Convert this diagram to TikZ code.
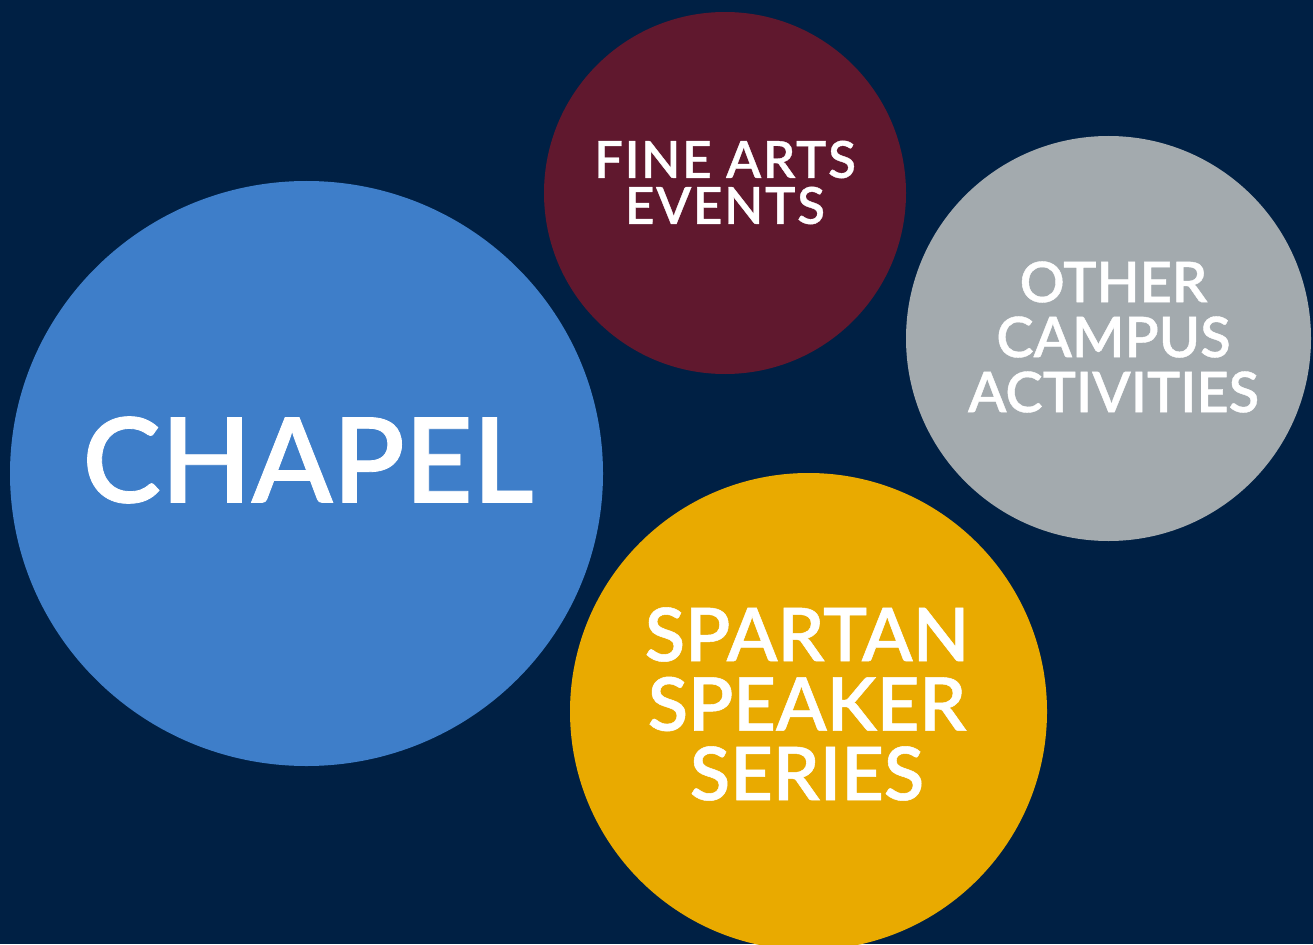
\documentclass[tikz,border=0pt]{standalone}
\usepackage{fontspec}
\setmainfont{Lato}
\newfontfamily\lblfont{Lato Semibold}[FakeBold=0.7]
\usetikzlibrary{shapes.geometric}
\definecolor{bgnavy}{HTML}{002044}
\definecolor{chapelblue}{HTML}{3E7EC9}
\definecolor{artsmaroon}{HTML}{60182E}
\definecolor{campusgray}{HTML}{A3AAAE}
\definecolor{spartangold}{HTML}{E9AA00}
\begin{document}
\begin{tikzpicture}[x=1pt,y=-1pt,
  bubble/.style={circle,inner sep=0pt,outer sep=0pt,draw=none},
  label/.style={text=white,align=center,inner sep=0pt,outer sep=0pt}]
\useasboundingbox (0,0) rectangle (1313,944);
\clip (0,0) rectangle (1313,944);
\fill[bgnavy] (0,0) rectangle (1313,944);
\node[ellipse,inner sep=0pt,outer sep=0pt,fill=chapelblue,minimum width=593pt,minimum height=585pt] (chapel) at (306.5,473.5) {};
\node[bubble,fill=artsmaroon,minimum size=362pt] (arts) at (725,193) {};
\node[bubble,fill=campusgray,minimum size=405pt] (campus) at (1108.5,338.5) {};
\node[bubble,fill=spartangold,minimum size=477pt] (spartan) at (808.5,711.5) {};
\node[label,font=\lblfont\fontsize{118}{118}\selectfont] (tchapel) at (308,460) {CHAPEL};
\node[label,font=\lblfont\addfontfeatures{LetterSpace=3.5}\fontsize{51}{46}\selectfont] (tarts) at (725,182.5) {FINE ARTS\\EVENTS};
\node[label,font=\lblfont\fontsize{56}{55}\selectfont] (tcampus) at (1113.5,337) {OTHER\\CAMPUS\\ACTIVITIES};
\node[label,font=\lblfont\fontsize{74}{69.5}\selectfont] (tspartan) at (807,704) {SPARTAN\\SPEAKER\\SERIES};
\end{tikzpicture}
\end{document}
